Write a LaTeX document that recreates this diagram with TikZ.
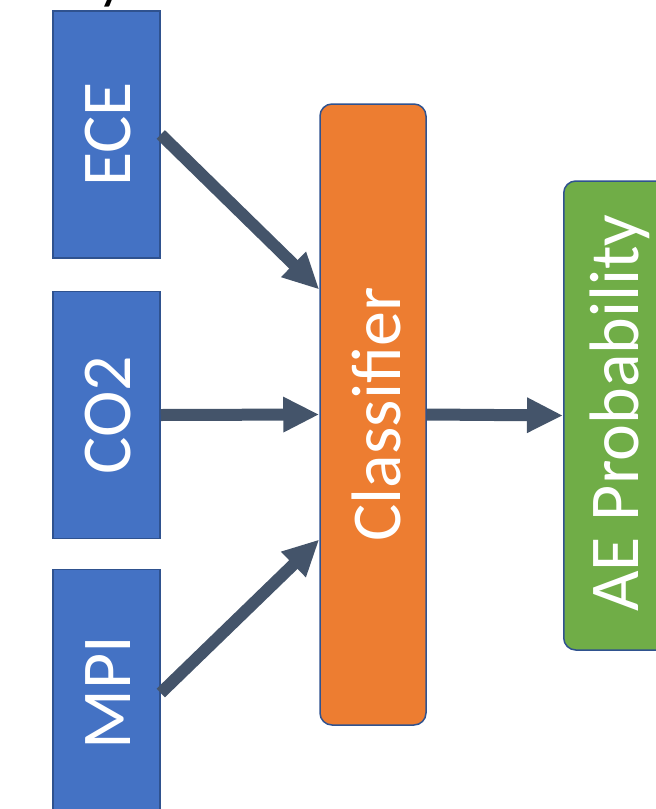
\documentclass[tikz,border=0pt]{standalone}
\usepackage{fontspec}
\setmainfont{Carlito}
\usetikzlibrary{arrows.meta}
\definecolor{boxblue}{HTML}{4472C4}
\definecolor{edgeblue}{HTML}{2F528F}
\definecolor{clsorange}{HTML}{ED7D31}
\definecolor{aegreen}{HTML}{70AD47}
\definecolor{arrowslate}{HTML}{44546A}
\begin{document}
\begin{tikzpicture}[x=1pt,y=-1pt,
  inbox/.style={draw=edgeblue, line width=1.5pt, fill=boxblue, minimum width=107pt, minimum height=247pt, inner sep=0pt},
  roundbox/.style={draw=edgeblue, line width=1.5pt, rounded corners=12pt, inner sep=0pt},
  vtext/.style={rotate=90, text=white, inner sep=0pt, font=\fontsize{70}{84}\selectfont},
  arr/.style={draw=arrowslate, line width=12pt, -{Triangle[length=36pt,width=33pt]}}]
\useasboundingbox (0,0) rectangle (656,809);
% fragment of cut-off title
\node[anchor=base west, inner sep=0pt, font=\fontsize{42}{50}\selectfont\bfseries] (frag) at (100,0) {y};
% input boxes
\node[inbox] (ece) at (106.5,134.5) {};
\node[vtext] (ecet) at (108,134.5) {ECE};
\node[inbox] (co2) at (106.5,415) {};
\node[vtext] (co2t) at (108,415) {CO2};
\node[inbox] (mpi) at (106.5,693) {};
\node[vtext] (mpit) at (108,693) {MPI};
% classifier
\node[roundbox, fill=clsorange, minimum width=106pt, minimum height=621pt] (cls) at (373,414.5) {};
\node[vtext] (clst) at (376,414.5) {Classifier};
% output
\node[roundbox, fill=aegreen, minimum width=110pt, minimum height=469pt, anchor=west] (ae) at (563,415.5) {};
\node[vtext] (aet) at (620,413) {AE Probability};
% connectors
\draw[arr] (ece.east) -- ([yshift=125pt]cls.west);
\draw[arr] (co2.east) -- (cls.west);
\draw[arr] (mpi.east) -- ([yshift=-125pt]cls.west);
\draw[arr] (cls.east) -- (ae.west);
\end{tikzpicture}
\end{document}
